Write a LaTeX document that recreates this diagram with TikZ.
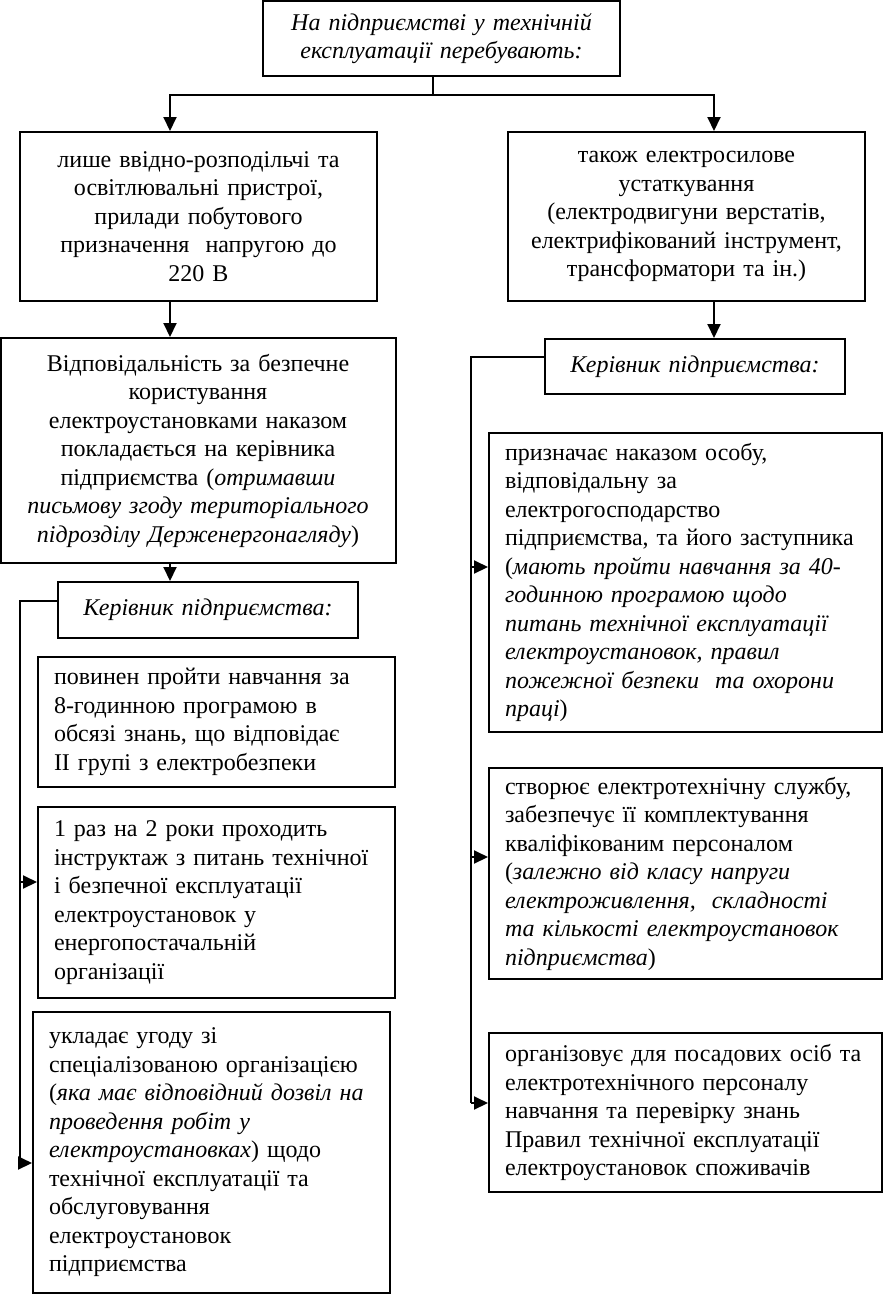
\documentclass[tikz,border=0pt]{standalone}
\usepackage{fontspec}
\setmainfont{Liberation Serif}
\usetikzlibrary{arrows.meta, calc}

\begin{document}
\begin{tikzpicture}[x=1pt, y=-1pt,
  box/.style={draw, line width=2pt, inner xsep=16pt, inner ysep=2pt,
    font=\fontsize{24}{28.5}\selectfont},
  cbox/.style={box, align=center},
  lbox/.style={box, align=left},
  ln/.style={line width=2pt},
  arr/.style={ln, -{Triangle[length=14pt, width=13pt]}}]
  \useasboundingbox (0,0) rectangle (884,1294);

  % верхній блок
  \node[cbox, text width=325pt, minimum height=75pt] (top) at (441.5,38.5)
    {\textit{На підприємстві у технічній}\\ \textit{експлуатації перебувають:}};

  % перший рівень
  \node[cbox, text width=325pt, minimum height=169pt] (leftA) at (198.5,216.5)
    {лише ввідно-розподільчі та\\ освітлювальні пристрої,\\ прилади побутового\\
     призначення~ напругою до\\ 220 В};
  \node[cbox, text width=325pt, minimum height=169pt] (rightA) at (686.5,216.5)
    {також електросилове\\ устаткування\\ (електродвигуни верстатів,\\
     електрифікований інструмент,\\ трансформатори та ін.)};

  % ліва гілка
  \node[cbox, text width=363pt, minimum height=225pt] (leftB) at (198,450.5)
    {Відповідальність за безпечне\\ користування\\ електроустановками наказом\\
     покладається на керівника\\ підприємства (\textit{отримавши}\\
     \textit{письмову згоду територіального}\\ \textit{підрозділу Держенергонагляду})};
  \node[cbox, text width=268pt, minimum height=56pt] (leftK) at (208,610)
    {\textit{Керівник підприємства:}};
  \node[lbox, text width=325pt, minimum height=130pt] (leftC) at (216.5,722)
    {повинен пройти навчання за\\ 8-годинною програмою в\\
     обсязі знань, що відповідає\\ II групі з електробезпеки};
  \node[lbox, text width=325pt, minimum height=191pt] (leftD) at (216.5,902.5)
    {1 раз на 2 роки проходить\\ інструктаж з питань технічної\\
     і безпечної експлуатації\\ електроустановок у\\ енергопостачальній\\ організації};
  \node[lbox, text width=325pt, minimum height=281pt] (leftE) at (211.5,1152.5)
    {укладає угоду зі\\ спеціалізованою організацією\\
     (\textit{яка має відповідний дозвіл на}\\ \textit{проведення робіт у}\\
     \textit{електроустановках}) щодо\\ технічної експлуатації та\\
     обслуговування\\ електроустановок\\ підприємства};

  % права гілка
  \node[cbox, text width=268pt, minimum height=55pt] (rightK) at (695,366.5)
    {\textit{Керівник підприємства:}};
  \node[lbox, text width=361pt, minimum height=299pt] (rightC) at (685.5,582.5)
    {призначає наказом особу,\\ відповідальну за\\ електрогосподарство\\
     підприємства, та його заступника\\ (\textit{мають пройти навчання за 40-}\\
     \textit{годинною програмою щодо}\\ \textit{питань технічної експлуатації}\\
     \textit{електроустановок, правил}\\ \textit{пожежної безпеки~ та охорони}\\
     \textit{праці})};
  \node[lbox, text width=361pt, minimum height=211pt] (rightD) at (685.5,873.5)
    {створює електротехнічну службу,\\ забезпечує її комплектування\\
     кваліфікованим персоналом\\ (\textit{залежно від класу напруги}\\
     \textit{електроживлення,~ складності}\\ \textit{та кількості електроустановок}\\
     \textit{підприємства})};
  \node[lbox, text width=361pt, minimum height=159pt] (rightE) at (685.5,1112.5)
    {організовує для посадових осіб та\\ електротехнічного персоналу\\
     навчання та перевірку знань\\ Правил технічної експлуатації\\
     електроустановок споживачів};

  % з'єднання
  \coordinate (split) at (433,95);
  \coordinate (lx) at (170,0);
  \coordinate (rx) at (714,0);
  \draw[ln] (top.south -| split) -- (split);
  \draw[arr] (split) -| (lx |- leftA.north);
  \draw[arr] (split) -| (rx |- rightA.north);
  \draw[arr] (leftA.south -| lx) -- (leftB.north -| lx);
  \draw[arr] (leftB.south -| lx) -- (leftK.north -| lx);
  \draw[arr] (rightA.south -| rx) -- (rightK.north -| rx);

  % ліва шина
  \coordinate (lbus) at (20,601);
  \coordinate (lD) at (20,882);
  \coordinate (lE) at (20,1163);
  \draw[ln] (leftK.west |- lbus) -- (lbus) -- (lE);
  \draw[arr] (lD) -- (lD -| leftD.west);
  \draw[arr] (lE) -- (lE -| leftE.west);

  % права шина
  \coordinate (rbus) at (471,357);
  \coordinate (rC) at (471,567);
  \coordinate (rD) at (471,857);
  \coordinate (rE) at (471,1103);
  \draw[ln] (rightK.west |- rbus) -- (rbus) -- (rE);
  \draw[arr] (rC) -- (rC -| rightC.west);
  \draw[arr] (rD) -- (rD -| rightD.west);
  \draw[arr] (rE) -- (rE -| rightE.west);
\end{tikzpicture}
\end{document}
